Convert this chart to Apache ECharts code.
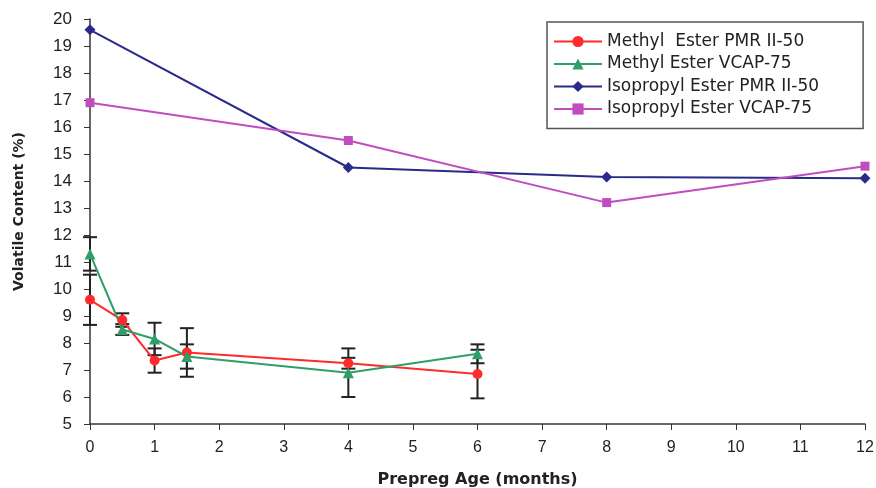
<!DOCTYPE html>
<html><head><meta charset="utf-8">
<script src="https://cdn.jsdelivr.net/npm/echarts@6/dist/echarts.min.js"></script>
<style>html,body{margin:0;padding:0;background:#fff}#c{width:876px;height:488px}</style>
</head><body><div id="c"></div>
<script>
const seriesNames = ["Methyl  Ester PMR II-50","Methyl Ester VCAP-75","Isopropyl Ester PMR II-50","Isopropyl Ester VCAP-75"];
const methylX = [0,0.5,1,1.5,4,6];
const methylPMR = [9.6,8.85,7.35,7.65,7.25,6.85];
const methylPMRErr = [0.93,0.25,0.45,0.9,0.2,0.9];
const methylVCAP = [11.3,8.5,8.15,7.5,6.9,7.6];
const methylVCAPErr = [0.62,0.2,0.6,0.45,0.9,0.35];
const isoX = [0,4,8,12];
const isoPMR = [19.6,14.5,14.15,14.1];
const isoVCAP = [16.9,15.5,13.2,14.55];

const colors = ['#ff2a2a','#2f9e68','#2a2a8a','#c04cc0'];
const pairs = (xs, ys) => xs.map((x,i)=>[x,ys[i]]);
const errData = (xs, ys, es) => xs.map((x,i)=>[x, ys[i]-es[i], ys[i]+es[i]]);

function errRender(params, api){
  const x = api.value(0), lo = api.value(1), hi = api.value(2);
  const p1 = api.coord([x, lo]), p2 = api.coord([x, hi]);
  const hw = 7;
  const st = {stroke:'#222', lineWidth:2};
  return {type:'group', children:[
    {type:'line', shape:{x1:p1[0],y1:p1[1],x2:p2[0],y2:p2[1]}, style:st},
    {type:'line', shape:{x1:p1[0]-hw,y1:p1[1],x2:p1[0]+hw,y2:p1[1]}, style:st},
    {type:'line', shape:{x1:p2[0]-hw,y1:p2[1],x2:p2[0]+hw,y2:p2[1]}, style:st}
  ]};
}

const font = 'Liberation Sans, Arial, sans-serif';
const wide = 'DejaVu Sans, sans-serif';
const chart = echarts.init(document.getElementById('c'));
chart.setOption({
  animation:false,
  textStyle:{fontFamily:font},
  grid:{left:90, right:11, top:19, bottom:64, containLabel:false, outerBoundsMode:'none'},
  xAxis:{type:'value', min:0, max:12, interval:1,
    name:'Prepreg Age (months)', nameLocation:'middle', nameGap:48,
    nameTextStyle:{fontSize:16, fontWeight:'bold', color:'#222', fontFamily:wide},
    axisLine:{lineStyle:{color:'#333', width:1.5}},
    axisTick:{show:true, length:6, lineStyle:{color:'#333'}},
    axisLabel:{fontSize:16, color:'#222', margin:16, fontFamily:font},
    splitLine:{show:false}},
  yAxis:{type:'value', min:5, max:20, interval:1,
    name:'Volatile Content (%)', nameLocation:'middle', nameGap:64, nameRotate:90,
    nameTextStyle:{fontSize:14, fontWeight:'bold', color:'#222', fontFamily:wide, padding:[0,0,0,20]},
    axisLine:{show:true, lineStyle:{color:'#333', width:1.5}},
    axisTick:{show:true, length:6, lineStyle:{color:'#333'}},
    axisLabel:{fontSize:17, color:'#222', margin:18, fontFamily:font},
    splitLine:{show:false}},
  legend:{orient:'vertical', left:547, top:22, padding:[11,44,11,6],
    borderColor:'#555', borderWidth:1.5, itemGap:5.5, itemWidth:48, itemHeight:14,
    textStyle:{fontSize:17, color:'#222', fontFamily:wide},
    data:seriesNames},
  series:[
    {type:'custom', renderItem:errRender, data:errData(methylX, methylPMR, methylPMRErr), z:1, silent:true},
    {type:'custom', renderItem:errRender, data:errData(methylX, methylVCAP, methylVCAPErr), z:1, silent:true},
    {name:seriesNames[0], type:'line', data:pairs(methylX, methylPMR), color:colors[0],
      symbol:'circle', symbolSize:10, lineStyle:{width:2}, z:3},
    {name:seriesNames[1], type:'line', data:pairs(methylX, methylVCAP), color:colors[1],
      symbol:'triangle', symbolSize:11, lineStyle:{width:2}, z:3},
    {name:seriesNames[2], type:'line', data:pairs(isoX, isoPMR), color:colors[2],
      symbol:'diamond', symbolSize:11, lineStyle:{width:2}, z:3},
    {name:seriesNames[3], type:'line', data:pairs(isoX, isoVCAP), color:colors[3],
      symbol:'rect', symbolSize:9, lineStyle:{width:2}, z:3}
  ]
});
</script></body></html>
